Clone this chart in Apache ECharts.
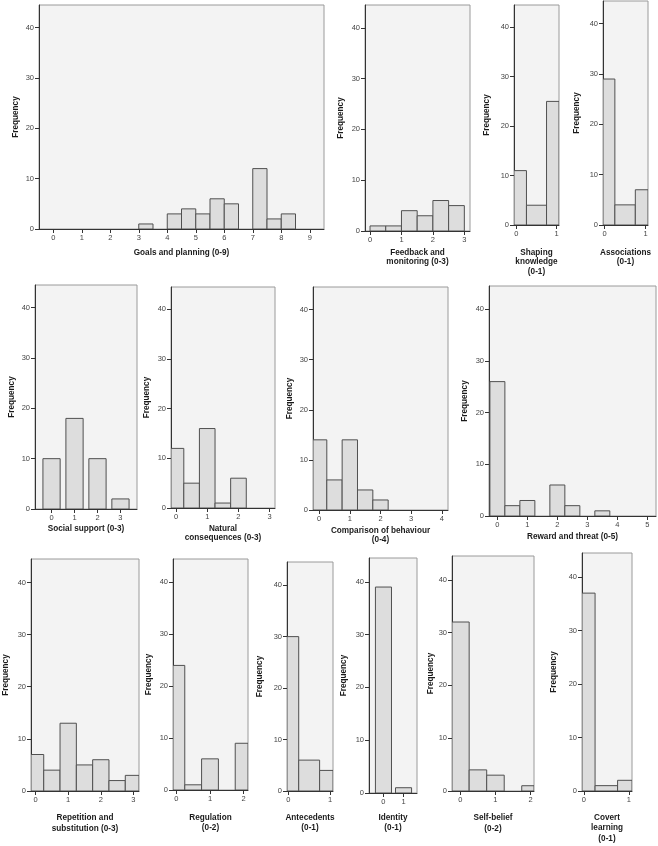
<!DOCTYPE html>
<html>
<head>
<meta charset="utf-8">
<script src="https://cdn.jsdelivr.net/npm/echarts@6/dist/echarts.min.js"></script>
<style>
html,body{margin:0;padding:0;background:#ffffff;}
#chart{width:658px;height:846px;}
</style>
</head>
<body>
<div id="chart"></div>
<script>
// ---------------- DATA ----------------
const panelTitles = [
  'Goals and planning (0-9)',
  'Feedback and\nmonitoring (0-3)',
  'Shaping\nknowledge\n(0-1)',
  'Associations\n(0-1)',
  'Social support (0-3)',
  'Natural\nconsequences (0-3)',
  'Comparison of behaviour\n(0-4)',
  'Reward and threat (0-5)',
  'Repetition and\nsubstitution (0-3)',
  'Regulation\n(0-2)',
  'Antecedents\n(0-1)',
  'Identity\n(0-1)',
  'Self-belief\n(0-2)',
  'Covert\nlearning\n(0-1)'
];
const yAxisTitle = 'Frequency';
const yTickValues = [0, 10, 20, 30, 40];

// bin centres (score) and counts per histogram
const goalsCenters        = [3.25, 4.25, 4.75, 5.25, 5.75, 6.25, 7.25, 7.75, 8.25];
const goalsCounts         = [1, 3, 4, 3, 6, 5, 12, 2, 3];
const feedbackCenters     = [0.25, 0.75, 1.25, 1.75, 2.25, 2.75];
const feedbackCounts      = [1, 1, 4, 3, 6, 5];
const shapingCenters      = [0, 0.5, 1];
const shapingCounts       = [11, 4, 25];
const associationsCenters = [0, 0.5, 1];
const associationsCounts  = [29, 4, 7];
const socialCenters       = [0, 1, 2, 3];
const socialCounts        = [10, 18, 10, 2];
const naturalCenters      = [0, 0.5, 1, 1.5, 2];
const naturalCounts       = [12, 5, 16, 1, 6];
const comparisonCenters   = [0, 0.5, 1, 1.5, 2];
const comparisonCounts    = [14, 6, 14, 4, 2];
const rewardCenters       = [0, 0.5, 1, 2, 2.5, 3.5];
const rewardCounts        = [26, 2, 3, 6, 2, 1];
const repetitionCenters   = [0, 0.5, 1, 1.5, 2, 2.5, 3];
const repetitionCounts    = [7, 4, 13, 5, 6, 2, 3];
const regulationCenters   = [0, 0.5, 1, 2];
const regulationCounts    = [24, 1, 6, 9];
const antecedentsCenters  = [0, 0.5, 1];
const antecedentsCounts   = [30, 6, 4];
const identityCenters     = [0, 1];
const identityCounts      = [39, 1];
const selfBeliefCenters   = [0, 0.5, 1, 2];
const selfBeliefCounts    = [32, 4, 3, 1];
const covertCenters       = [0, 0.5, 1];
const covertCounts        = [37, 1, 2];

// bar (bin) width in score units per histogram
const binWidths = [0.5, 0.5, 0.5, 0.5, 0.75, 0.5, 0.5, 0.5, 0.5, 0.5, 0.5, 0.8, 0.5, 0.5];
// highest x tick label (ticks run 0..max)
const xTickMax = [9, 3, 1, 1, 3, 3, 4, 5, 3, 2, 1, 1, 2, 1];

const allCenters = [goalsCenters, feedbackCenters, shapingCenters, associationsCenters,
  socialCenters, naturalCenters, comparisonCenters, rewardCenters,
  repetitionCenters, regulationCenters, antecedentsCenters, identityCenters,
  selfBeliefCenters, covertCenters];
const allCounts = [goalsCounts, feedbackCounts, shapingCounts, associationsCounts,
  socialCounts, naturalCounts, comparisonCounts, rewardCounts,
  repetitionCounts, regulationCounts, antecedentsCounts, identityCounts,
  selfBeliefCounts, covertCounts];

// ---------------- LAYOUT ----------------
// plot frame (left, top, width, height), x range, gaps for names
const layout = [
  {l: 39,  t: 5,   w: 285, h: 224, xmin: -0.5,  xmax: 9.5,  tg: 19.5, fg: 19, lh: 9.3},
  {l: 365, t: 5,   w: 105, h: 226, xmin: -0.16, xmax: 3.18, tg: 17.2, fg: 20, lh: 9.3},
  {l: 514, t: 5,   w: 45,  h: 220, xmin: -0.06, xmax: 1.06, tg: 23,   fg: 23.5, lh: 9.3},
  {l: 603, t: 1,   w: 45,  h: 224, xmin: -0.04, xmax: 1.06, tg: 23,   fg: 22.5, lh: 9.3},
  {l: 35,  t: 285, w: 102, h: 224, xmin: -0.72, xmax: 3.72, tg: 14.5, fg: 19, lh: 9.5},
  {l: 171, t: 287, w: 104, h: 221, xmin: -0.16, xmax: 3.17, tg: 15.8, fg: 20, lh: 9.5},
  {l: 313, t: 287, w: 135, h: 223, xmin: -0.2,  xmax: 4.2,  tg: 16,   fg: 19, lh: 9.0},
  {l: 489, t: 286, w: 167, h: 230, xmin: -0.28, xmax: 5.29, tg: 16,   fg: 20, lh: 9.5},
  {l: 31,  t: 559, w: 108, h: 232, xmin: -0.14, xmax: 3.17, tg: 21.9, fg: 21, lh: 10.6},
  {l: 173, t: 559, w: 75,  h: 231, xmin: -0.1,  xmax: 2.13, tg: 22.2, fg: 20, lh: 10.6},
  {l: 287, t: 562, w: 46,  h: 229, xmin: -0.03, xmax: 1.07, tg: 21.3, fg: 23, lh: 10.6},
  {l: 369, t: 558, w: 48,  h: 235, xmin: -0.72, xmax: 1.67, tg: 19,   fg: 21, lh: 10.6},
  {l: 452, t: 556, w: 82,  h: 235, xmin: -0.24, xmax: 2.1,  tg: 21.5, fg: 15.5, lh: 10.6},
  {l: 582, t: 553, w: 50,  h: 238, xmin: -0.04, xmax: 1.07, tg: 21.3, fg: 24, lh: 10.6}
];

const FONT = '"Liberation Sans", Arial, sans-serif';
const grids = [], xAxes = [], yAxes = [], series = [];

layout.forEach((p, i) => {
  grids.push({
    left: p.l, top: p.t, width: p.w, height: p.h,
    show: true, backgroundColor: '#f3f3f3', borderColor: '#9a9a9a', borderWidth: 1,
    containLabel: false
  });
  const xt = [];
  for (let k = 0; k <= xTickMax[i]; k++) xt.push(k);
  xAxes.push({
    type: 'value', gridIndex: i, min: p.xmin, max: p.xmax,
    name: panelTitles[i], nameLocation: 'middle', nameGap: p.tg,
    nameTextStyle: {fontFamily: FONT, fontSize: 8.2, fontWeight: 'bold', color: '#1a1a1a',
      lineHeight: p.lh, align: 'center', verticalAlign: 'top'},
    axisLine: {show: true, onZero: false, lineStyle: {color: '#333333', width: 1}},
    axisTick: {show: true, length: 4, customValues: xt, lineStyle: {color: '#333333'}},
    axisLabel: {show: true, customValues: xt, margin: 5, fontFamily: FONT, fontSize: 7.5, color: '#444444'},
    splitLine: {show: false}
  });
  yAxes.push({
    type: 'value', gridIndex: i, min: 0, max: 44.5,
    name: yAxisTitle, nameLocation: 'middle', nameGap: p.fg, nameRotate: 90,
    nameTextStyle: {fontFamily: FONT, fontSize: 8.2, fontWeight: 'bold', color: '#1a1a1a'},
    axisLine: {show: true, onZero: false, lineStyle: {color: '#333333', width: 1}},
    axisTick: {show: true, length: 4, customValues: yTickValues, lineStyle: {color: '#333333'}},
    axisLabel: {show: true, customValues: yTickValues, margin: 5, fontFamily: FONT, fontSize: 7.5, color: '#444444'},
    splitLine: {show: false}
  });
  const data = allCenters[i].map((c, k) => [c, allCounts[i][k], binWidths[i]]);
  series.push({
    type: 'custom', xAxisIndex: i, yAxisIndex: i, data: data, clip: true,
    encode: {x: 0, y: 1},
    renderItem: function (params, api) {
      const c = api.value(0), v = api.value(1), w = api.value(2);
      const a = api.coord([c - w / 2, v]);
      const b = api.coord([c + w / 2, 0]);
      const cs = params.coordSys;
      const rect = echarts.graphic.clipRectByRect(
        {x: a[0], y: a[1], width: b[0] - a[0], height: b[1] - a[1]},
        {x: cs.x, y: cs.y, width: cs.width, height: cs.height});
      if (!rect) return null;
      return {type: 'rect', shape: rect,
        style: {fill: '#dddddd', stroke: '#505050', lineWidth: 1}};
    }
  });
});

const chart = echarts.init(document.getElementById('chart'), null, {renderer: 'canvas'});
chart.setOption({
  animation: false,
  backgroundColor: '#ffffff',
  grid: grids, xAxis: xAxes, yAxis: yAxes, series: series
});
</script>
</body>
</html>
